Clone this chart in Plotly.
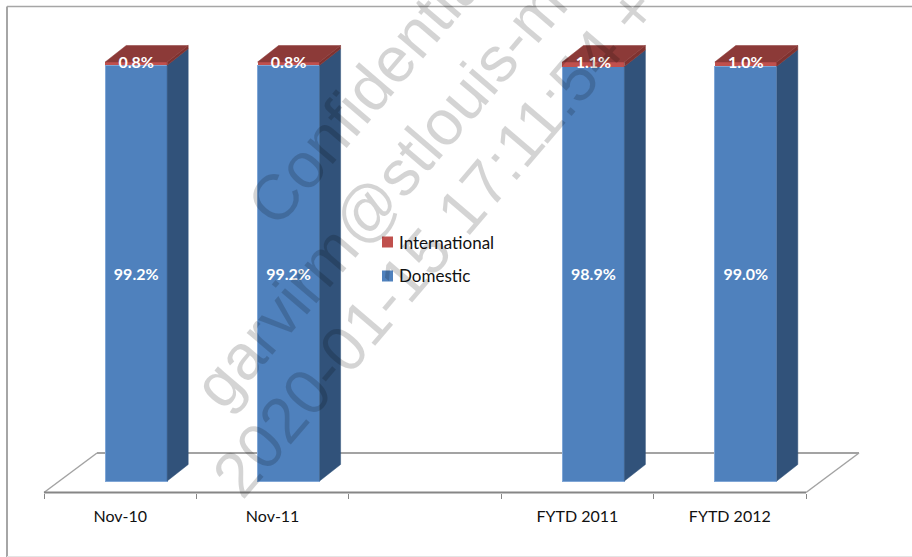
import plotly.graph_objects as go

categories = ["Nov-10", "Nov-11", "", "FYTD 2011", "FYTD 2012"]
domestic = [99.2, 99.2, None, 98.9, 99.0]
international = [0.8, 0.8, None, 1.1, 1.0]
domestic_labels = ["99.2%", "99.2%", "", "98.9%", "99.0%"]
international_labels = ["0.8%", "0.8%", "", "1.1%", "1.0%"]
legend_names = ["International", "Domestic"]
watermark = ["Confidential", "garvirm@stlouis-m", "2020-01-15 17:11:54 +"]

W, H = 912, 557
PX_X = 152.4          # pixels per category
PX_Y = 4.19           # pixels per percentage point
XLO = -0.5 - 44 / PX_X
XHI = XLO + W / PX_X
YLO = (481 - H) / PX_Y
YHI = YLO + H / PX_Y
SHIFT = 16 / PX_X     # bars sit forward of their category centre
BW = 62 / PX_X
DX = 21 / PX_X        # 3D depth
DY = 16.5 / PX_Y

BLUE, BLUE_SIDE, RED, RED_SIDE, RED_TOP = "#4F81BD", "#31527A", "#C0504D", "#7F3230", "#8C3A38"
EDGE_BLUE = "#7FA6D6"
FONT = "Lato, Carlito, Calibri, sans-serif"
LABEL_FONT = dict(family=FONT, size=16, color="white", weight="bold")

xpos = [i + SHIFT for i in range(len(categories))]


def side_faces(bases, tops):
    xs, ys = [], []
    for x, b, t in zip(xpos, bases, tops):
        if t is None:
            continue
        r = x + BW / 2
        xs += [r, r + DX, r + DX, r, r, None]
        ys += [b, b + DY, t + DY, t, b, None]
    return xs, ys


def top_faces(tops):
    xs, ys = [], []
    for x, t in zip(xpos, tops):
        if t is None:
            continue
        l, r = x - BW / 2, x + BW / 2
        xs += [l, l + DX, r + DX, r, l, None]
        ys += [t, t + DY, t + DY, t, t, None]
    return xs, ys


totals = [None if d is None else d + n for d, n in zip(domestic, international)]

fig = go.Figure()
fig.add_bar(x=xpos, y=domestic, name="Domestic", width=BW, marker=dict(color=BLUE, line=dict(color=EDGE_BLUE, width=1)),
            text=domestic_labels, textposition="inside", insidetextanchor="middle", constraintext="none",
            textangle=0, textfont=LABEL_FONT, showlegend=False, hoverinfo="skip")
fig.add_bar(x=xpos, y=international, name="International", width=BW, marker=dict(color=RED, line=dict(width=0)),
            showlegend=False, hoverinfo="skip")

sx, sy = side_faces([0 if d is not None else None for d in domestic], domestic)
fig.add_scatter(x=sx, y=sy, mode="lines", fill="toself", fillcolor=BLUE_SIDE, line=dict(color=BLUE_SIDE, width=0.5),
                showlegend=False, hoverinfo="skip")
sx, sy = side_faces(domestic, totals)
fig.add_scatter(x=sx, y=sy, mode="lines", fill="toself", fillcolor=RED_SIDE, line=dict(color=RED_SIDE, width=0.5),
                showlegend=False, hoverinfo="skip")
sx, sy = top_faces(totals)
fig.add_scatter(x=sx, y=sy, mode="lines", fill="toself", fillcolor=RED_TOP, line=dict(color=RED_TOP, width=0.5),
                showlegend=False, hoverinfo="skip")
# International labels sit over the top face, so they go in a layer above it
fig.add_scatter(x=xpos, y=[None if d is None else d + v / 2 for d, v in zip(domestic, international)],
                mode="text", text=international_labels, textposition="middle center", textfont=LABEL_FONT,
                cliponaxis=False, showlegend=False, hoverinfo="skip")

# floor of the 3D plot, behind the bars
n = len(categories)
fl, fr = -0.5, n - 0.5
y_front = -11.5 / PX_Y
y_back = 28 / PX_Y
x_depth = 53 / PX_X
floor_grey = "#A3A3A3"
shapes = [
    dict(type="line", xref="x", yref="y", x0=fl, x1=fl + x_depth, y0=y_front, y1=y_back, layer="below", line=dict(color=floor_grey, width=1.5)),
    dict(type="line", xref="x", yref="y", x0=fl + x_depth, x1=fr + x_depth, y0=y_back, y1=y_back, layer="below", line=dict(color=floor_grey, width=2)),
    dict(type="line", xref="x", yref="y", x0=fr + x_depth, x1=fr, y0=y_back, y1=y_front, layer="below", line=dict(color=floor_grey, width=1.5)),
    dict(type="line", xref="x", yref="y", x0=fl, x1=fr, y0=y_front, y1=y_front, layer="below", line=dict(color="#868686", width=2)),
    # outer frame
    dict(type="line", xref="paper", yref="paper", x0=7 / W, x1=7 / W, y0=0, y1=1 - 6.5 / H, line=dict(color="#A6A6A6", width=2)),
    dict(type="line", xref="paper", yref="paper", x0=7 / W, x1=1, y0=1 - 6.5 / H, y1=1 - 6.5 / H, line=dict(color="#A6A6A6", width=1.5)),
    dict(type="line", xref="paper", yref="paper", x0=7 / W, x1=1, y0=0.5 / H, y1=0.5 / H, line=dict(color="#E4E4E4", width=1)),
]

annotations = []
# legend: swatch hugging its label, as in the reference
for name, colour, py in zip(legend_names, [RED, BLUE], [242, 276]):
    shapes.append(dict(type="rect", xref="paper", yref="paper", x0=382 / W, x1=393 / W, y0=1 - (py + 5.5) / H, y1=1 - (py - 5.5) / H,
                       fillcolor=colour, line=dict(width=0)))
    annotations.append(dict(text=name, xref="paper", yref="paper", x=398 / W, y=1 - py / H, xanchor="left", yanchor="middle",
                            showarrow=False, xshift=-1, font=dict(family=FONT, size=17, color="#111111")))

wm_pos = [(370, 87), (380, 195), (435, 242)]
annotations += [
    dict(text=t, xref="paper", yref="paper", x=px / W, y=1 - py / H, xanchor="center", yanchor="middle",
         showarrow=False, textangle=-49.5, font=dict(family="Liberation Sans, Arial, sans-serif", size=64, color="rgba(0,0,0,0.17)"))
    for t, (px, py) in zip(watermark, wm_pos)
]

fig.update_layout(
    width=W, height=H, margin=dict(l=0, r=0, t=0, b=0), autosize=False,
    paper_bgcolor="white", plot_bgcolor="white", barmode="stack",
    shapes=shapes, annotations=annotations, showlegend=False,
    xaxis=dict(range=[XLO, XHI], domain=[0, 1], tickmode="array", tickvals=list(range(n)), ticktext=categories,
               ticks="", showgrid=False, zeroline=False, showline=False, anchor="free", position=(H - 492.5) / H,
               ticklabelstandoff=12, tickfont=dict(family=FONT, size=16, color="#111111"),
               minor=dict(tickmode="array", tickvals=[i - 0.5 for i in range(n + 1)], ticks="outside", ticklen=5, tickwidth=1,
                          tickcolor="#868686", showgrid=False)),
    yaxis=dict(range=[YLO, YHI], domain=[0, 1], visible=False, showgrid=False, zeroline=False),
)

fig.write_html("out.html", config=dict(displayModeBar=False),
               post_script="document.body.style.margin='0';document.body.style.overflow='hidden';")
